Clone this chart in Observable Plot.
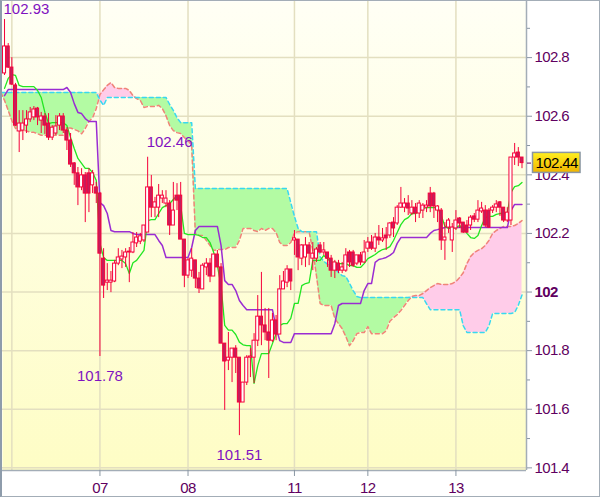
<!DOCTYPE html>
<html><head><meta charset="utf-8">
<script src="https://cdn.jsdelivr.net/npm/d3@7"></script>
<script src="https://cdn.jsdelivr.net/npm/@observablehq/plot@0.6"></script>
<style>
body{margin:0;background:#fff;}
#wrap{width:600px;height:497px;box-sizing:border-box;border:1px solid #a3adb7;border-left:2px solid #8e9cab;overflow:hidden;background:#fff;}
.axlab text{letter-spacing:-0.6px;}
</style></head><body><div id="wrap"></div>
<script>
const opens = [102.746,102.838,102.766,102.705,102.548,102.551,102.568,102.589,102.596,102.626,
102.585,102.599,102.575,102.527,102.541,102.568,102.599,102.551,102.517,102.439,
102.405,102.357,102.398,102.405,102.364,102.357,102.336,102.114,102.032,102.032,
102.036,102.097,102.111,102.118,102.135,102.135,102.166,102.172,102.176,102.203,
102.357,102.288,102.288,102.319,102.302,102.302,102.227,102.329,102.329,102.179,
102.056,102.073,102.108,102.046,102.009,102.084,102.097,102.053,102.128,102.084,
101.824,101.766,101.776,101.807,101.776,101.623,101.691,101.776,101.776,101.834,
101.916,101.886,101.862,101.834,101.903,101.855,102.009,102.032,102.077,102.176,
102.179,102.114,102.118,102.159,102.114,102.114,102.159,102.135,102.135,102.114,
102.073,102.097,102.073,102.073,102.135,102.135,102.097,102.125,102.101,102.148,
102.169,102.148,102.186,102.176,102.193,102.193,102.237,102.234,102.288,102.288,
102.302,102.268,102.288,102.268,102.278,102.288,102.336,102.336,102.278,102.278,
102.176,102.220,102.176,102.217,102.251,102.237,102.227,102.227,102.258,102.247,
102.275,102.278,102.278,102.278,102.288,102.306,102.288,102.244,102.244,102.459,
102.476,102.459];
const closes = [102.838,102.766,102.708,102.568,102.575,102.575,102.589,102.613,102.623,102.596,
102.599,102.568,102.527,102.561,102.565,102.599,102.551,102.517,102.435,102.405,
102.357,102.398,102.336,102.336,102.405,102.336,102.131,102.022,102.039,102.039,
102.097,102.118,102.121,102.135,102.138,102.169,102.186,102.190,102.227,102.357,
102.288,102.306,102.329,102.329,102.319,102.227,102.278,102.312,102.179,102.056,
102.108,102.114,102.046,102.012,102.090,102.097,102.053,102.128,102.084,101.824,
101.763,101.776,101.807,101.776,101.623,101.691,101.776,101.780,101.834,101.916,
101.886,101.862,101.834,101.903,101.855,102.009,102.036,102.077,102.036,102.183,
102.118,102.159,102.159,102.131,102.131,102.145,102.135,102.142,102.114,102.073,
102.101,102.073,102.084,102.125,102.101,102.090,102.125,102.101,102.135,102.169,
102.148,102.186,102.176,102.183,102.183,102.234,102.217,102.288,102.302,102.302,
102.285,102.288,102.268,102.302,102.295,102.295,102.292,102.292,102.292,102.176,
102.186,102.244,102.220,102.244,102.234,102.203,102.203,102.254,102.247,102.278,
102.285,102.227,102.220,102.288,102.299,102.288,102.244,102.271,102.459,102.473,
102.459,102.44];
const highs = [102.93,102.848,102.800,102.712,102.619,102.619,102.619,102.630,102.633,102.630,
102.613,102.609,102.609,102.568,102.602,102.609,102.609,102.561,102.541,102.442,
102.425,102.421,102.408,102.421,102.415,102.374,102.340,102.148,102.097,102.070,
102.108,102.148,102.142,102.148,102.152,102.203,102.203,102.200,102.227,102.46,
102.398,102.323,102.367,102.346,102.346,102.312,102.374,102.370,102.374,102.179,
102.114,102.148,102.108,102.067,102.097,102.114,102.114,102.128,102.142,102.097,
101.824,101.862,101.807,101.817,101.776,101.691,101.783,101.807,101.858,101.988,
102.067,101.944,101.944,101.927,101.920,102.056,102.070,102.090,102.077,102.210,
102.179,102.162,102.186,102.169,102.169,102.152,102.169,102.169,102.135,102.125,
102.108,102.108,102.101,102.148,102.142,102.142,102.125,102.135,102.176,102.186,
102.193,102.200,102.227,102.217,102.220,102.237,102.254,102.295,102.357,102.319,
102.329,102.312,102.302,102.312,102.302,102.312,102.357,102.340,102.295,102.285,
102.237,102.251,102.234,102.278,102.254,102.237,102.244,102.261,102.268,102.312,
102.306,102.295,102.285,102.295,102.312,102.309,102.288,102.288,102.459,102.507,
102.493,102.459];
const lows = [102.739,102.763,102.705,102.565,102.476,102.517,102.541,102.579,102.585,102.568,
102.541,102.538,102.517,102.517,102.534,102.551,102.541,102.483,102.425,102.364,
102.295,102.346,102.237,102.271,102.336,102.302,101.78,101.978,102.005,101.998,
102.032,102.090,102.080,102.084,102.032,102.131,102.152,102.162,102.169,102.203,
102.254,102.254,102.254,102.302,102.288,102.193,102.227,102.278,102.179,102.015,
102.046,102.050,102.012,101.995,102.009,102.056,102.032,102.053,102.084,101.824,
101.596,101.732,101.691,101.722,101.51,101.623,101.681,101.708,101.688,101.814,
101.817,101.834,101.705,101.828,101.834,101.855,102.009,102.015,102.005,102.125,
102.073,102.090,102.084,102.090,102.073,102.101,102.131,102.125,102.084,102.050,
102.046,102.063,102.063,102.067,102.084,102.084,102.090,102.090,102.097,102.135,
102.142,102.135,102.159,102.169,102.142,102.183,102.186,102.227,102.285,102.271,
102.261,102.261,102.237,102.251,102.251,102.271,102.271,102.251,102.237,102.142,
102.108,102.200,102.135,102.210,102.217,102.200,102.200,102.210,102.237,102.237,
102.268,102.220,102.217,102.268,102.271,102.258,102.237,102.237,102.227,102.432,
102.428,102.421];
const tenkan = [102.695,102.729,102.742,102.739,102.705,102.701,102.701,102.701,102.701,102.688,
102.664,102.613,102.575,102.578,102.578,102.578,102.578,102.568,102.527,102.490,
102.456,102.439,102.422,102.422,102.408,102.381,102.166,102.118,102.108,102.108,
102.108,102.108,102.108,102.097,102.063,102.100,102.108,102.125,102.142,102.244,
102.247,102.247,102.268,102.288,102.295,102.302,102.316,102.329,102.295,102.200,
102.196,102.196,102.196,102.193,102.186,102.186,102.169,102.135,102.090,102.022,
101.886,101.870,101.870,101.855,101.829,101.820,101.817,101.817,101.688,101.749,
101.790,101.790,101.790,101.824,101.858,101.886,101.892,101.892,101.910,101.961,
101.961,102.022,102.029,102.032,102.108,102.108,102.108,102.125,102.114,102.101,
102.101,102.097,102.097,102.097,102.090,102.090,102.084,102.084,102.097,102.114,
102.121,102.128,102.138,102.145,102.148,102.155,102.176,102.203,102.230,102.247,
102.254,102.268,102.268,102.274,102.285,102.288,102.288,102.288,102.288,102.261,
102.224,102.217,102.217,102.220,102.227,102.217,102.200,102.186,102.183,102.193,
102.227,102.254,102.258,102.258,102.265,102.268,102.268,102.271,102.340,102.360,
102.363,102.374];
const kijun = [102.670,102.691,102.691,102.691,102.691,102.691,102.691,102.691,102.691,102.691,
102.691,102.691,102.691,102.691,102.691,102.691,102.691,102.698,102.681,102.643,
102.613,102.609,102.592,102.582,102.582,102.582,102.305,102.295,102.268,102.210,
102.206,102.206,102.206,102.206,102.206,102.200,102.196,102.196,102.196,102.196,
102.196,102.196,102.176,102.159,102.118,102.118,102.118,102.118,102.118,102.118,
102.118,102.152,102.210,102.224,102.224,102.224,102.224,102.224,102.224,102.159,
102.039,102.026,102.026,102.005,101.971,101.954,101.940,101.940,101.940,101.940,
101.940,101.940,101.940,101.940,101.879,101.834,101.828,101.828,101.828,101.858,
101.858,101.858,101.858,101.858,101.858,101.858,101.858,101.858,101.858,101.858,
101.892,101.954,101.961,101.961,101.961,101.961,101.961,101.961,102.005,102.029,
102.029,102.101,102.111,102.114,102.118,102.125,102.135,102.166,102.186,102.186,
102.186,102.186,102.186,102.186,102.186,102.186,102.200,102.210,102.213,102.217,
102.220,102.220,102.220,102.220,102.220,102.220,102.220,102.220,102.220,102.220,
102.220,102.220,102.220,102.220,102.220,102.220,102.220,102.220,102.278,102.299,
102.299,102.299];
// leading spans, bar -1 .. 142
const spanStart = -1;
const spanCyan = [102.681,
102.681,102.681,102.681,102.681,102.681,102.681,102.681,102.681,102.681,102.681,
102.681,102.681,102.681,102.681,102.681,102.681,102.681,102.681,102.681,102.681,
102.681,102.681,102.681,102.681,102.681,102.681,102.655,102.637,102.664,102.664,
102.664,102.664,102.664,102.664,102.664,102.664,102.664,102.664,102.664,102.664,
102.664,102.664,102.664,102.664,102.664,102.640,102.620,102.595,102.578,102.578,
102.578,102.578,102.353,102.353,102.353,102.353,102.353,102.353,102.353,102.353,
102.353,102.353,102.353,102.353,102.353,102.353,102.353,102.353,102.353,102.353,
102.353,102.353,102.353,102.353,102.353,102.353,102.353,102.353,102.305,102.258,
102.217,102.206,102.206,102.206,102.206,102.206,102.120,102.105,102.095,102.090,
102.080,102.067,102.056,102.053,102.030,102.005,101.985,101.981,101.981,101.981,
101.981,101.981,101.981,101.981,101.981,101.981,101.981,101.981,101.981,101.981,
101.981,101.981,101.981,101.981,101.981,101.960,101.940,101.940,101.940,101.940,
101.940,101.940,101.940,101.940,101.940,101.885,101.862,101.862,101.862,101.862,
101.862,101.862,101.885,101.927,101.927,101.927,101.927,101.927,101.927,101.930,
101.955,101.990];
const spanSalmon = [102.681,
102.654,102.620,102.585,102.558,102.551,102.550,102.550,102.545,102.545,102.540,
102.535,102.535,102.535,102.535,102.535,102.535,102.535,102.560,102.560,102.555,
102.550,102.540,102.558,102.582,102.595,102.626,102.674,102.690,102.705,102.715,
102.698,102.695,102.695,102.695,102.688,102.670,102.660,102.654,102.630,102.633,
102.633,102.633,102.637,102.626,102.602,102.568,102.551,102.544,102.541,102.527,
102.517,102.500,102.200,102.193,102.193,102.176,102.159,102.142,102.145,102.145,
102.145,102.152,102.152,102.152,102.176,102.217,102.217,102.217,102.210,102.206,
102.217,102.210,102.217,102.217,102.203,102.169,102.159,102.159,102.169,102.203,
102.206,102.206,102.206,102.206,102.142,102.056,101.961,101.954,101.954,101.954,
101.910,101.892,101.875,101.848,101.817,101.834,101.858,101.862,101.862,101.882,
101.858,101.858,101.858,101.858,101.868,101.900,101.913,101.923,101.937,101.954,
101.971,101.985,101.988,101.988,101.995,102.005,102.015,102.022,102.029,102.026,
102.026,102.026,102.029,102.036,102.049,102.066,102.097,102.121,102.135,102.142,
102.148,102.159,102.176,102.200,102.210,102.217,102.224,102.224,102.224,102.227,
102.234,102.244,102.250];
const gridDays = [2, 26, 50, 79, 99, 123];
const tickDays = [26, 50, 79, 99, 123];
const tickLabels = ["07", "08", "11", "12", "13"];
const yTicks = [101.4, 101.6, 101.8, 102, 102.2, 102.4, 102.6, 102.8];
const yMinor = [101.5, 101.7, 101.9, 102.1, 102.3, 102.5, 102.7, 102.9];
const peakIdx = [39];
const troughIdx = [26, 64];

const N = opens.length;
const candles = d3.range(N).map(i => ({i, o: opens[i], c: closes[i], h: highs[i], l: lows[i]}));
const tenkanData = tenkan.map((v, i) => ({i, v}));
const kijunData = kijun.map((v, i) => ({i, v}));
const cloud = spanCyan.map((a, k) => ({i: k + spanStart, a, b: spanSalmon[k]}));
const xDomain = [-0.55, 142.23];
const yDomain = [101.391, 102.9915];
const lastClose = closes[N - 1];
const labelMap = new Map(tickDays.map((d, k) => [d, tickLabels[k]]));
const AX = "Liberation Sans, Arial, sans-serif";
const LB = "Liberation Sans, Arial, sans-serif";
const red = "#f5003a";

const chart = Plot.plot({
  width: 597, height: 495,
  marginTop: 0, marginLeft: 0, marginRight: 73, marginBottom: 26,
  x: {domain: xDomain, axis: null},
  y: {domain: yDomain, axis: null},
  style: {background: "white", fontFamily: AX, overflow: "visible"},
  marks: [
    Plot.frame({fill: "url(#bgGrad)", stroke: "none"}),
    Plot.ruleY(yTicks, {stroke: "#e3dfc0", strokeWidth: 1.5}),
    Plot.ruleX(gridDays, {stroke: "#e3dfc0", strokeWidth: 1.5}),
    Plot.areaY(cloud, {x: "i", y1: "b", y2: d => Math.max(d.a, d.b), fill: "#b3fba3"}),
    Plot.areaY(cloud, {x: "i", y1: "a", y2: d => Math.max(d.a, d.b), fill: "#ffcce9"}),
    Plot.lineY(cloud, {x: "i", y: "b", stroke: "#f08478", strokeWidth: 1.5, strokeDasharray: "4,3"}),
    Plot.lineY(cloud, {x: "i", y: "a", stroke: "#38d8f0", strokeWidth: 1.5, strokeDasharray: "4,3"}),
    Plot.lineY(kijunData, {x: "i", y: "v", stroke: "#9a2cd2", strokeWidth: 1.5}),
    Plot.lineY(tenkanData, {x: "i", y: "v", stroke: "#22e622", strokeWidth: 1.3}),
    Plot.ruleX(candles, {x: "i", y1: "l", y2: "h", stroke: red, strokeWidth: 1}),
    Plot.rect(candles, {
      x1: d => d.i - 0.42, x2: d => d.i + 0.42,
      y1: d => Math.min(d.o, d.c), y2: d => Math.max(d.o, d.c),
      fill: d => d.c >= d.o ? "#ffffff" : "#c41e5c", stroke: red, strokeWidth: 1
    }),
    Plot.ruleY([yDomain[0]], {stroke: "#a3adb7", strokeWidth: 1.5}),
    Plot.ruleX([xDomain[1]], {stroke: "#a3adb7", strokeWidth: 1.5}),
    // y axis
    Plot.axisY(yTicks, {anchor: "right", tickSize: 5, tickFormat: () => "", stroke: "#8a96a3", label: null}),
    Plot.axisY(yMinor, {anchor: "right", tickSize: 3, tickFormat: () => "", stroke: "#8a96a3", label: null}),
    Plot.axisY(yTicks.filter(v => v !== 102), {anchor: "right", tickSize: 0, tickPadding: 8, label: null,
      tickFormat: d => String(d), fill: "#600060", fontSize: 15, fontFamily: AX, className: "axlab"}),
    Plot.axisY([102], {anchor: "right", tickSize: 0, tickPadding: 8, label: null,
      tickFormat: d => String(d), fill: "#600060", fontSize: 15, fontWeight: "bold", fontFamily: AX, className: "axlab"}),
    Plot.axisY([lastClose], {anchor: "right", tickSize: 4, tickFormat: () => "", stroke: "#600060", label: null}),
    // x axis
    Plot.axisX(tickDays, {anchor: "bottom", tickSize: 6, tickPadding: 6, label: null,
      tickFormat: d => labelMap.get(d), stroke: "#8a96a3", fill: "#600060", fontSize: 15, fontFamily: AX, className: "axlab"}),
    // extreme labels
    Plot.text([d3.max(highs)], {frameAnchor: "top-left", text: d => d.toFixed(2), dx: 1, dy: 2,
      textAnchor: "start", lineAnchor: "top", fill: "#8012c0", fontSize: 15, fontFamily: LB}),
    Plot.text(peakIdx, {x: d => d, y: d => highs[d], text: d => highs[d].toFixed(2), dx: -1, dy: -10,
      textAnchor: "start", lineAnchor: "bottom", fill: "#8012c0", fontSize: 15, fontFamily: LB}),
    Plot.text(troughIdx, {x: d => d, y: d => lows[d], text: d => lows[d].toFixed(2), dy: 14,
      textAnchor: "middle", lineAnchor: "top", fill: "#8012c0", fontSize: 15, fontFamily: LB}),
    // last price
    Plot.text([lastClose], {y: d => d, frameAnchor: "right", dx: 9, text: d => d.toFixed(2),
      textAnchor: "start", fill: "#000", fontSize: 15, fontFamily: AX, className: "lastPrice axlab"})
  ]
});

document.getElementById("wrap").appendChild(chart);
const svg = d3.select(chart);
const defs = svg.insert("defs", ":first-child");
const g1 = defs.append("linearGradient").attr("id", "bgGrad").attr("x1", 0).attr("y1", 0).attr("x2", 0).attr("y2", 1);
g1.append("stop").attr("offset", "0%").attr("stop-color", "#fffff5");
g1.append("stop").attr("offset", "100%").attr("stop-color", "#fefdc5");
const g2 = defs.append("linearGradient").attr("id", "boxGrad").attr("x1", 0).attr("y1", 0).attr("x2", 0).attr("y2", 1);
g2.append("stop").attr("offset", "0%").attr("stop-color", "#fff020");
g2.append("stop").attr("offset", "100%").attr("stop-color", "#f0b400");
svg.selectAll("g.lastPrice text").each(function () {
  const b = this.getBBox();
  const r = d3.select(this.parentNode).insert("rect", "text")
    .attr("x", b.x - 3).attr("y", b.y + b.height / 2 - 10)
    .attr("width", b.width + 5).attr("height", 20)
    .attr("fill", "url(#boxGrad)").attr("stroke", "#8a96a3").attr("stroke-width", 1.5);
  const t = this.getAttribute("transform");
  if (t) r.attr("transform", t);
});
</script></body></html>
